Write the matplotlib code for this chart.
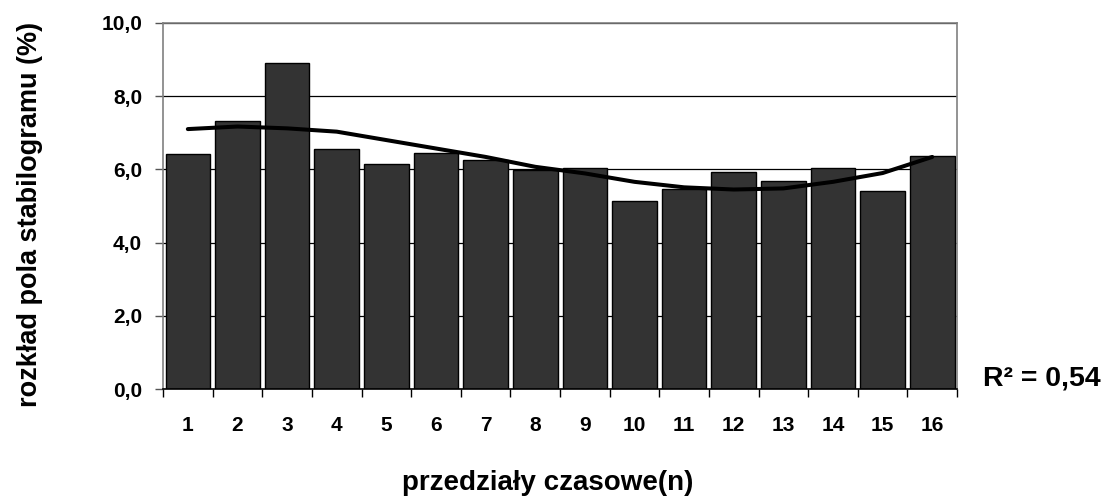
import numpy as np
import matplotlib
matplotlib.use("Agg")
import matplotlib.pyplot as plt

plt.rcParams['font.family'] = ['Liberation Sans', 'DejaVu Sans']
plt.rcParams['font.weight'] = 'bold'

# values
przedzialy = list(range(1, 17))
rozklad = [6.41, 7.31, 8.91, 6.56, 6.14, 6.46, 6.25, 5.98,
           6.04, 5.13, 5.46, 5.92, 5.67, 6.03, 5.41, 6.37]
trend = [7.10, 7.17, 7.12, 7.03, 6.80, 6.57, 6.34, 6.07,
         5.89, 5.66, 5.51, 5.45, 5.48, 5.66, 5.90, 6.34]
y_ticks = [0, 2, 4, 6, 8, 10]
r2_text = "R² = 0,54"

fig = plt.figure(figsize=(11.09, 4.97), dpi=100)
ax = fig.add_axes([0.147, 0.217, 0.716, 0.737])

ax.bar(przedzialy, rozklad, width=0.9, color='#333333', edgecolor='black',
       linewidth=1.0, zorder=2)
ax.plot(przedzialy, trend, color='black', linewidth=2.9, zorder=3,
        solid_capstyle='round', solid_joinstyle='round')

ax.set_xlim(0.5, 16.5)
ax.set_ylim(0, 10)
ax.set_yticks(y_ticks)
ax.set_yticklabels([f"{v:.1f}".replace('.', ',') for v in y_ticks], fontsize=15, fontweight='bold')
ax.yaxis.grid(True, color='black', linewidth=0.9, zorder=0)
ax.set_axisbelow(True)

# ticks between categories, labels under bars
ax.set_xticks(np.arange(0.5, 17, 1.0))
ax.set_xticklabels([])
ax.set_xticks(przedzialy, minor=True)
ax.set_xticklabels([str(p) for p in przedzialy], minor=True, fontsize=15, fontweight='bold')
ax.tick_params(axis='x', which='major', length=6, width=1, color='black', direction='out')
ax.tick_params(axis='x', which='minor', length=0, pad=19)
ax.tick_params(axis='y', length=6, width=1, color='#555555', pad=9)

for s in ['top', 'right', 'left']:
    ax.spines[s].set_color('#808080')
    ax.spines[s].set_linewidth(1.2)
ax.spines['bottom'].set_color('black')
ax.spines['bottom'].set_linewidth(1.2)

ax.set_xlabel("przedziały czasowe(n)", fontsize=20, fontweight='bold')
ax.xaxis.set_label_coords(0.484, -0.255)
ax.xaxis.label.set_va('center')
ax.set_ylabel("rozkład pola stabilogramu (%)", fontsize=19.5, fontweight='bold')
ax.yaxis.set_label_coords(-0.168, 0.478)
ax.yaxis.label.set_va('center')

fig.text(0.886, 0.239, r2_text, fontsize=20.5, fontweight='bold', ha='left', va='center')

fig.savefig("out.png", dpi=100)
